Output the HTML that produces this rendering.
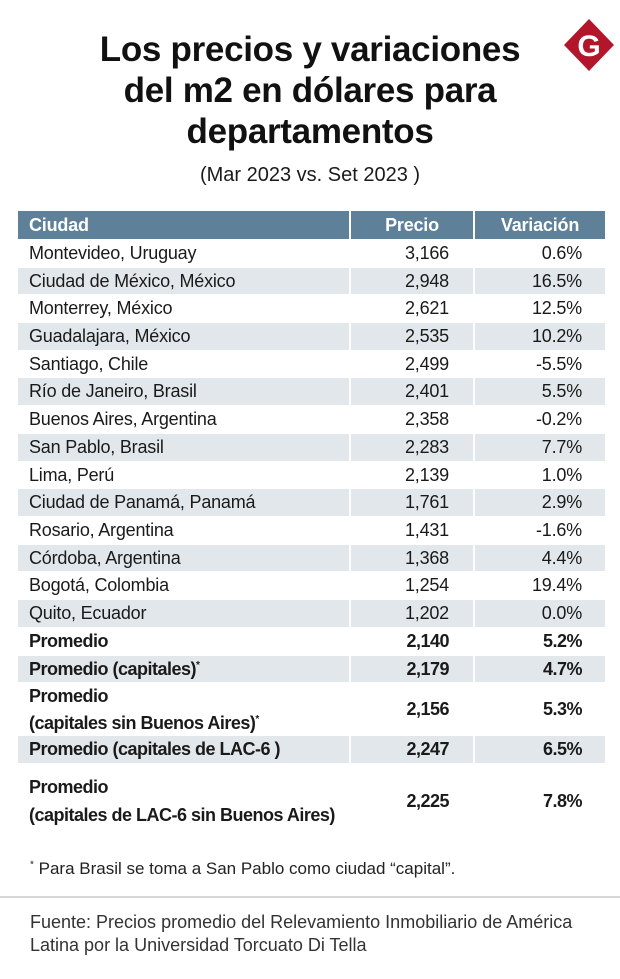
<!DOCTYPE html>
<html><head><meta charset="utf-8">
<style>
body{margin:0;background:#fff;}
#wrap{position:relative;width:620px;height:979px;overflow:hidden;font-family:"Liberation Sans",sans-serif;color:#1a1a1a;}
.title{position:absolute;left:0;width:620px;text-align:center;font-weight:bold;font-size:35px;line-height:41px;top:29px;color:#111;letter-spacing:-0.3px;}
.sub{position:absolute;left:0;width:620px;text-align:center;top:164px;font-size:20px;}
.cell{position:absolute;box-sizing:border-box;font-size:18px;display:flex;align-items:center;white-space:nowrap;letter-spacing:-0.2px;}
.hd{background:#5e8099;color:#fff;font-weight:bold;font-size:18px;}
.g{background:#e2e7eb;}
.foot{position:absolute;left:30px;font-size:17.5px;}
</style></head>
<body>
<div id="wrap">
<svg style="position:absolute;left:561px;top:17px" width="56" height="56">
<polygon points="28,2 53,28 28,54 3,28" fill="#b3162b"/>
<text x="28" y="39" text-anchor="middle" font-family="Liberation Sans" font-weight="bold" font-size="30" fill="#fff">G</text>
</svg>
<div class="title">Los precios y variaciones<br>del m2 en dólares para<br>departamentos</div>
<div class="sub">(Mar 2023 vs. Set 2023 )</div>
<div id="tbl"></div>
<div class="foot" style="top:859px;left:30px;font-size:17px;color:#222"><sup style="font-size:10px">*</sup> Para Brasil se toma a San Pablo como ciudad “capital”.</div>
<div style="position:absolute;left:0;top:896px;width:620px;height:2px;background:#d6d6d6"></div>
<div class="foot" style="top:911px;line-height:23px;font-size:18px;color:#333">Fuente: Precios promedio del Relevamiento Inmobiliario de América<br>Latina por la Universidad Torcuato Di Tella</div>
</div>
<script>
const cities=["Montevideo, Uruguay","Ciudad de México, México","Monterrey, México","Guadalajara, México","Santiago, Chile","Río de Janeiro, Brasil","Buenos Aires, Argentina","San Pablo, Brasil","Lima, Perú","Ciudad de Panamá, Panamá","Rosario, Argentina","Córdoba, Argentina","Bogotá, Colombia","Quito, Ecuador","Promedio","Promedio (capitales)<sup style='font-size:10px'>*</sup>","Promedio<br>(capitales sin Buenos Aires)<sup style='font-size:10px'>*</sup>","Promedio (capitales de LAC-6 )","Promedio<br>(capitales de LAC-6 sin Buenos Aires)"];
const prices=["3,166","2,948","2,621","2,535","2,499","2,401","2,358","2,283","2,139","1,761","1,431","1,368","1,254","1,202","2,140","2,179","2,156","2,247","2,225"];
const variations=["0.6%","16.5%","12.5%","10.2%","-5.5%","5.5%","-0.2%","7.7%","1.0%","2.9%","-1.6%","4.4%","19.4%","0.0%","5.2%","4.7%","5.3%","6.5%","7.8%"];
const wrap=document.getElementById('wrap');
function cell(x,y,w,h,html,cls,align,pad){
  const d=document.createElement('div');
  d.className='cell '+cls;
  d.style.left=x+'px';d.style.top=y+'px';d.style.width=w+'px';d.style.height=h+'px';
  d.style.justifyContent=align;
  if(align==='flex-start')d.style.paddingLeft=pad+'px';else d.style.paddingRight=pad+'px';
  d.innerHTML=html;
  wrap.appendChild(d);
  return d;
}
let h1=cell(18,211,331,28,'Ciudad','hd','flex-start',11);


let h2=cell(351,211,122,28,'Precio','hd','center',0);


let h3=cell(475,211,130,28,'Variación','hd','center',0);


let y=240;
for(let i=0;i<cities.length;i++){
  let h=27.7;
  if(i===16)h=53;
  if(i===18)h=75;
  const cls=(i%2===1?'g':'');
  const top=Math.round(y), ht=Math.round(y+h)-top-1;
  const bold=i>=14?'font-weight:bold;font-size:18px;letter-spacing:-0.5px;':'';
  const lh=i===18?'line-height:28px;':(i===16?'line-height:24px;':'');
  let c1=cell(18,top,331,ht,'<span style="'+bold+lh+'">'+cities[i]+'</span>',cls,'flex-start',11);
  
  
  let c2=cell(351,top,122,ht,'<span style="'+bold+'">'+prices[i]+'</span>',cls,'flex-end',24);
  
  
  let c3=cell(475,top,130,ht,'<span style="'+bold+'">'+variations[i]+'</span>',cls,'flex-end',23);
  
  
  y+=h;
}
</script>
</body></html>
